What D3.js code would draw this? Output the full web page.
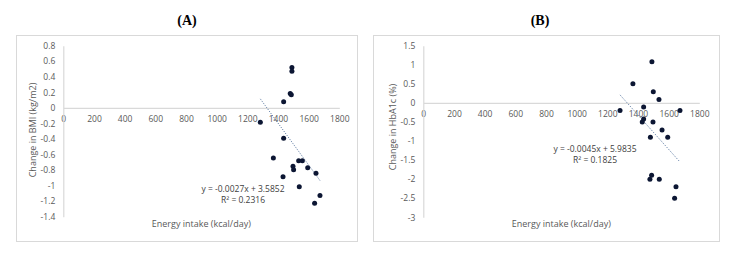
<!DOCTYPE html>
<html>
<head>
<meta charset="utf-8">
<script src="https://cdn.jsdelivr.net/npm/d3@7"></script>
<style>
  body { margin: 0; background: #fff; }
  svg { display: block; }
  .tick text { font-family: "Open Sans", sans-serif; font-size: 8.5px; fill: #595959; }
</style>
</head>
<body>
<svg id="chart" width="732" height="256"></svg>
<script>
// energy intake (kcal/day) vs change in outcome
const energyA = [1491, 1491, 1480, 1487, 1437, 1285, 1437, 1370, 1535, 1559, 1498, 1502, 1594, 1648, 1433, 1539, 1674, 1639];
const bmiChange = [0.52, 0.47, 0.185, 0.17, 0.08, -0.185, -0.39, -0.645, -0.68, -0.68, -0.75, -0.795, -0.77, -0.84, -0.886, -1.015, -1.127, -1.226];

const energyB = [1491, 1367, 1500, 1537, 1437, 1283, 1674, 1437, 1428, 1498, 1557, 1481, 1594, 1489, 1478, 1539, 1648, 1639];
const hba1cChange = [1.08, 0.5, 0.29, 0.09, -0.11, -0.2, -0.2, -0.42, -0.5, -0.5, -0.71, -0.9, -0.9, -1.9, -2.0, -2.0, -2.2, -2.5];

const xTicks = [0, 200, 400, 600, 800, 1000, 1200, 1400, 1600, 1800];
const yTicksA = [0.8, 0.6, 0.4, 0.2, 0, -0.2, -0.4, -0.6, -0.8, -1, -1.2, -1.4];
const yTicksB = [1.5, 1, 0.5, 0, -0.5, -1, -1.5, -2, -2.5, -3];

const fitA = { slope: -0.0027, intercept: 3.5852, r2: "0.2316" };
const fitB = { slope: -0.0045, intercept: 5.9835, r2: "0.1825" };

const svg = d3.select("#chart");
const fmt = d => String(Math.round(d * 10) / 10);

function drawPanel(p) {
  const g = svg.append("g");

  // panel frame
  g.append("rect")
    .attr("x", p.box[0] + 0.5).attr("y", p.box[1] + 0.5)
    .attr("width", p.box[2]).attr("height", p.box[3])
    .attr("fill", "#fff").attr("stroke", "#d9d9d9");

  g.append("text")
    .attr("x", p.titleX).attr("y", 25)
    .attr("text-anchor", "middle")
    .attr("font-family", "Liberation Serif, serif")
    .attr("font-weight", "bold")
    .attr("font-size", 14)
    .attr("fill", "#000")
    .text(p.title);

  const x = d3.scaleLinear().domain([0, 1800]).range(p.xRange);
  const y = d3.scaleLinear().domain(p.yDomain).range(p.yRange);

  const xAxis = g.append("g")
    .attr("transform", `translate(0,${y(0)})`)
    .call(d3.axisBottom(x).tickValues(xTicks).tickFormat(d3.format("d")).tickSize(0).tickPadding(8));
  xAxis.select(".domain").attr("stroke", "#d9d9d9").attr("stroke-width", 1.2);

  const yAxis = g.append("g")
    .attr("transform", `translate(${x(0)},0)`)
    .call(d3.axisLeft(y).tickValues(p.yTicks).tickFormat(fmt).tickSize(0).tickPadding(8));
  yAxis.select(".domain").attr("stroke", "#d9d9d9").attr("stroke-width", 1.2);

  // axis titles
  g.append("text")
    .attr("x", d3.mean(p.xRange)).attr("y", 227)
    .attr("text-anchor", "middle")
    .attr("font-family", "Open Sans, sans-serif")
    .attr("font-size", 9)
    .attr("fill", "#595959")
    .text("Energy intake (kcal/day)");

  g.append("text")
    .attr("transform", `translate(${p.yTitle[0]},${p.yTitle[1]}) rotate(-90)`)
    .attr("text-anchor", "middle")
    .attr("font-family", "Open Sans, sans-serif")
    .attr("font-size", 9)
    .attr("fill", "#595959")
    .text(p.yLabel);

  // linear trend line over the data range
  const ext = d3.extent(p.xs);
  g.append("line")
    .attr("x1", x(ext[0])).attr("y1", y(p.fit.slope * ext[0] + p.fit.intercept))
    .attr("x2", x(ext[1])).attr("y2", y(p.fit.slope * ext[1] + p.fit.intercept))
    .attr("stroke", "#4f6f9a")
    .attr("stroke-width", 1)
    .attr("stroke-dasharray", "1,1.5");

  g.selectAll("circle")
    .data(p.xs.map((v, i) => ({ e: v, c: p.ys[i] })))
    .enter().append("circle")
    .attr("cx", d => x(d.e))
    .attr("cy", d => y(d.c))
    .attr("r", 2.5)
    .attr("fill", "#0c1633");

  const eq = g.append("text")
    .attr("text-anchor", "middle")
    .attr("font-family", "Open Sans, sans-serif")
    .attr("font-size", 8.5)
    .attr("fill", "#404040");
  eq.append("tspan")
    .attr("x", p.eqPos[0]).attr("y", p.eqPos[1])
    .text(`y = ${p.fit.slope}x + ${p.fit.intercept}`);
  eq.append("tspan")
    .attr("x", p.eqPos[0]).attr("y", p.eqPos[1] + 10.5)
    .text(`R² = ${p.fit.r2}`);
}

drawPanel({
  title: "(A)", titleX: 187,
  box: [16, 35, 341, 206],
  xRange: [63.3, 339.3], yDomain: [-1.4, 0.8], yRange: [216.7, 45.7],
  yTicks: yTicksA, xs: energyA, ys: bmiChange, fit: fitA,
  yLabel: "Change in BMI (kg/m2)", yTitle: [36, 130],
  eqPos: [243, 192]
});

drawPanel({
  title: "(B)", titleX: 540,
  box: [373, 35, 346, 206],
  xRange: [423.3, 699.3], yDomain: [-3, 1.5], yRange: [217.3, 45.7],
  yTicks: yTicksB, xs: energyB, ys: hba1cChange, fit: fitB,
  yLabel: "Change in HbA1c (%)", yTitle: [396, 127],
  eqPos: [595, 152]
});
</script>
</body>
</html>
